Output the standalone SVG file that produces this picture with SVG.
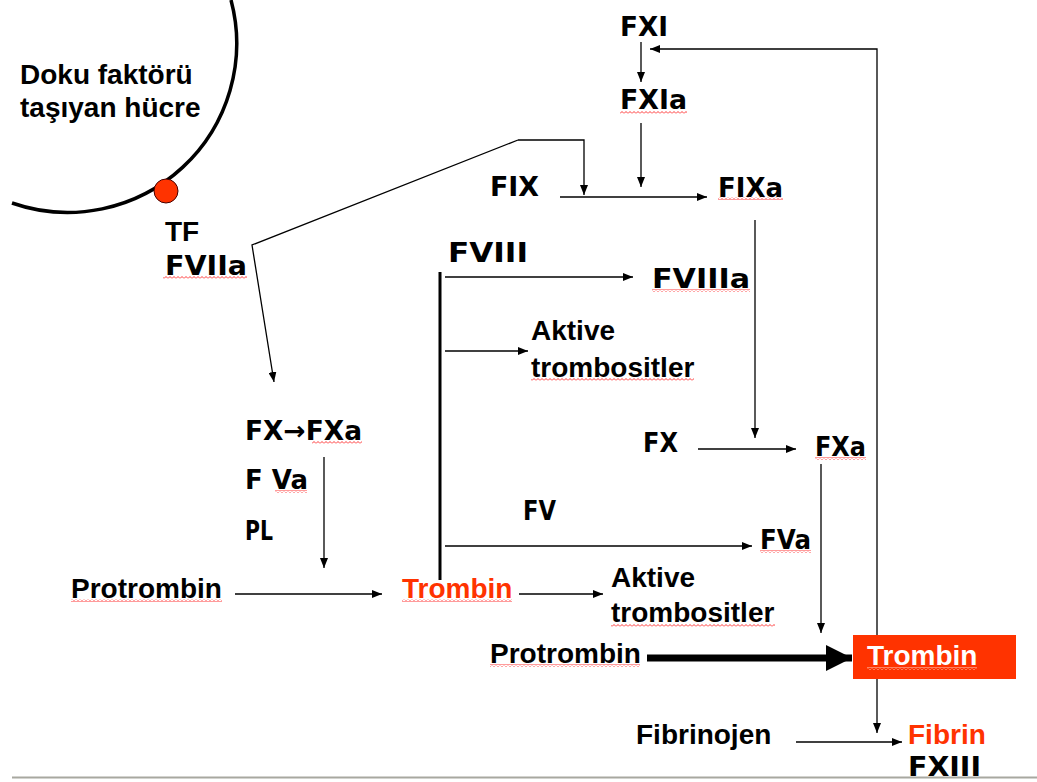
<svg xmlns="http://www.w3.org/2000/svg" width="1037" height="782" viewBox="0 0 1037 782">
<style>
.t{font-family:"Liberation Sans",Arial,sans-serif;font-weight:bold;font-size:28px;fill:#000}
.c{font-family:"DejaVu Sans","Liberation Sans",sans-serif;font-weight:bold;font-size:26px;fill:#000}
.red{fill:#ff3300}
.wh{fill:#fff}
.ln{fill:none;stroke:#000;stroke-width:1.3}
.ar{marker-end:url(#ah)}
.sq{fill:url(#sqr)}
.sqw{fill:url(#sqw)}
</style>
<defs>
<marker id="ah" viewBox="0 0 10 8" refX="10" refY="4" markerWidth="10" markerHeight="8" markerUnits="userSpaceOnUse" orient="auto">
<path d="M0,0 L10,4 L0,8 z" fill="#000"/>
</marker>
<marker id="big" viewBox="0 0 26 26" refX="26" refY="13" markerWidth="26" markerHeight="26" markerUnits="userSpaceOnUse" orient="auto">
<path d="M0,0 L26,13 L0,26 z" fill="#000"/>
</marker>
<pattern id="sqr" patternUnits="userSpaceOnUse" width="4" height="3">
<path d="M0,2.5 L2,0.5 L4,2.5" fill="none" stroke="#ff2020" stroke-width="0.9"/>
</pattern>
<pattern id="sqw" patternUnits="userSpaceOnUse" width="4" height="3">
<path d="M0,2.5 L2,0.5 L4,2.5" fill="none" stroke="#ffe0d8" stroke-width="0.9"/>
</pattern>
</defs>
<rect width="1037" height="782" fill="#fff"/>

<g id="cell">
<path d="M12,203 A169,169 0 0 0 231,0" fill="none" stroke="#000" stroke-width="3.5"/>
<circle cx="166" cy="191" r="12" fill="#ff3300" stroke="#400" stroke-width="1"/>
<text class="t" x="20" y="84">Doku faktörü</text>
<text class="t" x="20" y="117">taşıyan hücre</text>
</g>

<g id="connectors">
<path class="ln ar" d="M641,42 V82"/>
<path class="ln ar" d="M641,123 V187"/>
<path class="ln ar" d="M560,197 H707"/>
<path class="ln ar" d="M518,140 L252,245 L274,382"/>
<path class="ln ar" d="M518,140 H584 V195"/>
<path class="ln ar" d="M755,220 V438"/>
<path d="M440,272 V580" fill="none" stroke="#000" stroke-width="3"/>
<path class="ln ar" d="M445,277 H633"/>
<path class="ln ar" d="M445,351 H528"/>
<path class="ln ar" d="M445,546 H752"/>
<path class="ln ar" d="M698,449 H796"/>
<path class="ln ar" d="M821,464 V633"/>
<path class="ln ar" d="M324,457 V568"/>
<path class="ln ar" d="M235,594 H382"/>
<path class="ln ar" d="M519,594 H603"/>
<path d="M647,658 H852" fill="none" stroke="#000" stroke-width="7" marker-end="url(#big)"/>
<path class="ln ar" d="M877,640 V49 H650"/>
<path class="ln ar" d="M877,679 V733"/>
<path class="ln ar" d="M796,742 H902"/>
</g>

<g id="n-tf"><text class="t" x="165" y="241">TF</text></g>
<g id="n-fviia"><text class="c" x="165" y="275" textLength="82" lengthAdjust="spacingAndGlyphs">FVIIa</text><rect class="sq" x="163" y="276" width="84" height="3"/></g>
<g id="n-fxi"><text class="c" x="620" y="36" textLength="48" lengthAdjust="spacingAndGlyphs">FXI</text></g>
<g id="n-fxia"><text class="c" x="620" y="109" textLength="67" lengthAdjust="spacingAndGlyphs">FXIa</text><rect class="sq" x="620" y="111" width="67" height="3"/></g>
<g id="n-fix"><text class="c" x="490" y="196" textLength="49" lengthAdjust="spacingAndGlyphs">FIX</text></g>
<g id="n-fixa"><text class="c" x="718" y="197" textLength="65" lengthAdjust="spacingAndGlyphs">FIXa</text><rect class="sq" x="718" y="197" width="65" height="3"/></g>
<g id="n-fviii"><text class="c" x="448" y="262" textLength="80" lengthAdjust="spacingAndGlyphs">FVIII</text></g>
<g id="n-fviiia"><text class="c" x="652" y="288" textLength="98" lengthAdjust="spacingAndGlyphs">FVIIIa</text><rect class="sq" x="652" y="289" width="98" height="3"/></g>
<g id="n-aktive1"><text class="t" x="531" y="340">Aktive</text><text class="t" x="531" y="377">trombositler</text><rect class="sq" x="531" y="378" width="163" height="3"/></g>
<g id="n-fxfxa"><text class="c" x="245" y="440" textLength="117" lengthAdjust="spacingAndGlyphs">FX→FXa</text><rect class="sq" x="312" y="441" width="50" height="3"/></g>
<g id="n-fva1"><text class="c" x="245" y="489" textLength="63" lengthAdjust="spacingAndGlyphs">F Va</text><rect class="sq" x="275" y="490" width="32" height="3"/></g>
<g id="n-pl"><text class="c" x="245" y="540" textLength="28" lengthAdjust="spacingAndGlyphs">PL</text></g>
<g id="n-fx"><text class="c" x="643" y="452" textLength="35" lengthAdjust="spacingAndGlyphs">FX</text></g>
<g id="n-fxa"><text class="c" x="815" y="456" textLength="51" lengthAdjust="spacingAndGlyphs">FXa</text><rect class="sq" x="815" y="457" width="51" height="3"/></g>
<g id="n-fv"><text class="c" x="523" y="520" textLength="33" lengthAdjust="spacingAndGlyphs">FV</text></g>
<g id="n-fva"><text class="c" x="760" y="549" textLength="51" lengthAdjust="spacingAndGlyphs">FVa</text><rect class="sq" x="760" y="550" width="51" height="3"/></g>
<g id="n-protrombin1"><text class="t" x="71" y="598">Protrombin</text><rect class="sq" x="71" y="599" width="151" height="3"/></g>
<g id="n-trombin1"><text class="t red" x="402" y="598">Trombin</text><rect class="sq" x="402" y="599" width="110" height="3"/></g>
<g id="n-aktive2"><text class="t" x="611" y="587">Aktive</text><text class="t" x="611" y="622">trombositler</text><rect class="sq" x="611" y="624" width="164" height="3"/></g>
<g id="n-protrombin2"><text class="t" x="490" y="663">Protrombin</text><rect class="sq" x="490" y="664" width="150" height="3"/></g>
<g id="n-trombin2"><rect x="853" y="635" width="163" height="44" fill="#ff3300"/><text class="t wh" x="867" y="665">Trombin</text><rect class="sqw" x="867" y="667" width="110" height="3"/></g>
<g id="n-fibrinojen"><text class="t" x="636" y="744">Fibrinojen</text></g>
<g id="n-fibrin"><text class="t red" x="908" y="744">Fibrin</text></g>
<g id="n-fxiii"><text class="c" x="908" y="776" textLength="73" lengthAdjust="spacingAndGlyphs">FXIII</text></g>

<line x1="12" y1="777.5" x2="1037" y2="777.5" stroke="#a8a8a0" stroke-width="2"/>
</svg>
